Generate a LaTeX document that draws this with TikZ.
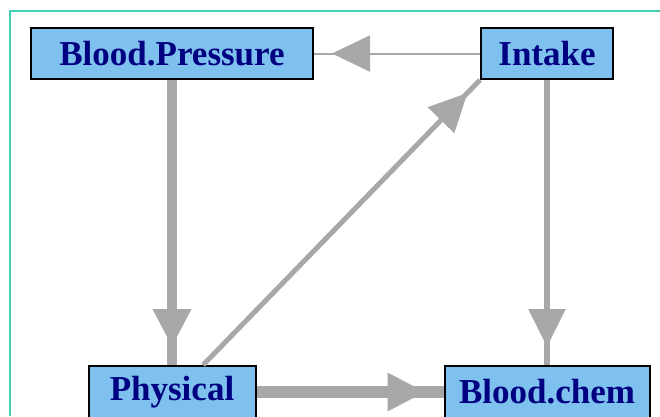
\documentclass[tikz,border=0pt]{standalone}
\usepackage{fontspec}
\setmainfont{Liberation Serif}
\usetikzlibrary{arrows.meta,decorations.markings}
\definecolor{boxblue}{RGB}{126,192,238}
\definecolor{labelnavy}{RGB}{0,0,128}
\definecolor{edgegray}{RGB}{168,168,168}
\definecolor{frameteal}{RGB}{64,208,180}
\tikzset{
	var/.style={shape=rectangle, draw=black, line width=2pt, fill=boxblue, text=labelnavy,
		font=\fontsize{35}{35}\selectfont\bfseries, minimum height=51pt, inner sep=0pt},
	flow/.style={color=edgegray, line width=#1, postaction={decorate},
		decoration={markings, mark=at position -18pt with {\arrow{Triangle[length=38pt,width=36pt]}}}},
}
\begin{document}
\begin{tikzpicture}[x=1pt, y=-1pt]
	\useasboundingbox (0,0) rectangle (660,416);
	\draw[frameteal, line width=2pt] (10,416) -- (10,11) -- (660,11);

	\node[var, minimum width=282pt] (bp)       at (172,53.5) {Blood.Pressure};
	\node[var, minimum width=132pt] (intake)   at (547,53.5) {Intake};
	\node[var, minimum width=167pt, minimum height=52pt] (physical) at (172,392) {Physical};
	\node[var, minimum width=205pt, minimum height=52pt] (bchem)    at (547,392) {Blood.chem};

	\draw[flow=2pt]  (intake) -- (bp);
	\draw[flow=10pt] (bp) -- (physical);
	\draw[flow=6pt]  (intake) -- (bchem);
	\draw[flow=5pt]  (physical.41) -- (intake.south west);
	\draw[flow=12pt] (physical) -- (bchem);
\end{tikzpicture}
\end{document}
